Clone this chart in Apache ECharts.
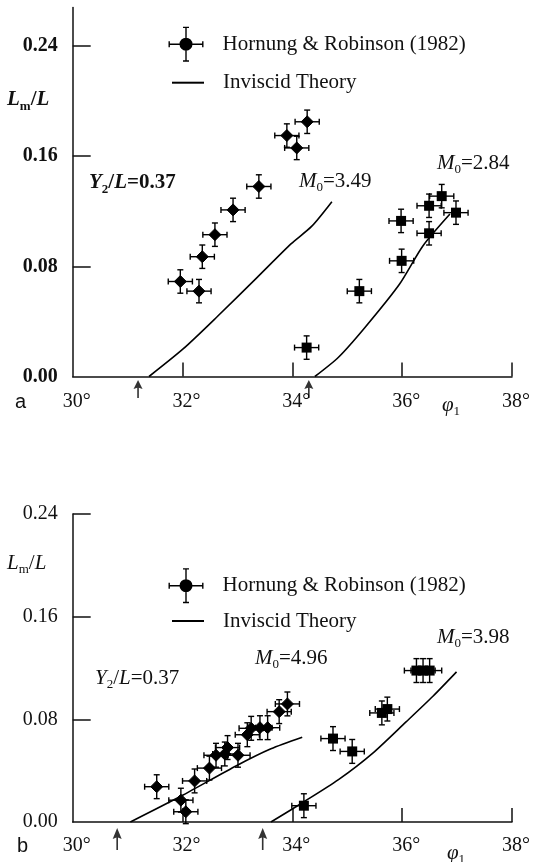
<!DOCTYPE html>
<html>
<head>
<meta charset="utf-8">
<script src="https://cdn.jsdelivr.net/npm/echarts@6/dist/echarts.min.js"></script>
<style>
  html, body { margin: 0; padding: 0; background: #fff; }
  #chart { width: 533px; height: 862px; }
</style>
</head>
<body>
<div id="chart"></div>
<script>
// tick labels
const xTickValues = [30, 32, 34, 36, 38];
const xTickLabels = ['30°', '32°', '34°', '36°', '38°'];
const yTickValues = [0, 0.08, 0.16, 0.24];
const yTickLabels = ['0.00', '0.08', '0.16', '0.24'];

// panel a : measurements (phi1 in deg, Lm/L)
const aDiamonds = [[31.96, 0.069], [32.30, 0.062], [32.36, 0.087], [32.59, 0.103], [32.92, 0.121],
  [33.39, 0.138], [33.90, 0.175], [34.08, 0.166], [34.27, 0.185]];
const aSquares = [[34.26, 0.021], [35.22, 0.062], [35.99, 0.084], [35.98, 0.113], [36.49, 0.124],
  [36.49, 0.104], [36.72, 0.131], [36.98, 0.119]];
// panel a : inviscid theory
const aTheory349 = [[31.39, 0], [32.01, 0.020], [32.62, 0.043], [33.36, 0.072], [33.98, 0.0965], [34.35, 0.109], [34.72, 0.127]];
const aTheory284 = [[34.41, 0], [34.84, 0.014], [35.33, 0.036], [35.95, 0.067], [36.38, 0.095], [36.87, 0.118]];
const aArrows = [31.19, 34.30];

// panel b
const bDiamonds = [[31.53, 0.0275], [31.97, 0.017], [32.06, 0.008], [32.22, 0.032], [32.49, 0.042],
  [32.61, 0.052], [32.77, 0.053], [32.82, 0.058], [33.01, 0.052], [33.18, 0.068], [33.25, 0.073],
  [33.41, 0.0735], [33.55, 0.0735], [33.76, 0.086], [33.91, 0.092]];
const bSquares = [[34.21, 0.0127], [34.74, 0.065], [35.09, 0.055], [35.63, 0.085], [35.73, 0.088],
  [36.26, 0.118], [36.38, 0.118], [36.50, 0.118]];
const bTheory496 = [[31.05, 0], [32.01, 0.021], [32.99, 0.044], [33.61, 0.057], [34.18, 0.066]];
const bTheory398 = [[33.61, 0], [34.22, 0.016], [34.84, 0.033], [35.46, 0.0535], [36.07, 0.078], [36.56, 0.098], [36.99, 0.117]];
const bArrows = [30.81, 33.46];

// error bar half widths
const xErr = 0.22;
const yErrA = 0.0085;
const yErrB = 0.0093;

const SERIF = "'Liberation Serif', 'DejaVu Serif', serif";
const SANS = "'Liberation Sans', Arial, sans-serif";
const INK = '#111';
const LEG1 = 'Hornung & Robinson (1982)';
const LEG2 = 'Inviscid Theory';
const ARROW = 'path://M0,0 L5,11 L0.9,9.5 L0.9,22 L-0.9,22 L-0.9,9.5 L-5,11 Z';
const ERR_ICON = 'path://M0,16.8 L35,16.8 L35,18.2 L0,18.2 Z M16.8,0 L18.2,0 L18.2,35 L16.8,35 Z ' +
  'M0,14.5 L1.4,14.5 L1.4,20.5 L0,20.5 Z M33.6,14.5 L35,14.5 L35,20.5 L33.6,20.5 Z ' +
  'M14.5,0 L20.5,0 L20.5,1.4 L14.5,1.4 Z M14.5,33.6 L20.5,33.6 L20.5,35 L14.5,35 Z ' +
  'M11,17.5 A6.5,6.5 0 1,1 24,17.5 A6.5,6.5 0 1,1 11,17.5 Z';

function errRender(shape, ex, ey) {
  return function (params, api) {
    const x = api.value(0), y = api.value(1);
    const c = api.coord([x, y]);
    const l = api.coord([x - ex, y])[0], r = api.coord([x + ex, y])[0];
    const t = api.coord([x, y + ey])[1], b = api.coord([x, y - ey])[1];
    const st = { stroke: '#000', lineWidth: 1.4 };
    const cap = 3;
    const kids = [
      { type: 'line', shape: { x1: l, y1: c[1], x2: r, y2: c[1] }, style: st },
      { type: 'line', shape: { x1: c[0], y1: t, x2: c[0], y2: b }, style: st },
      { type: 'line', shape: { x1: l, y1: c[1] - cap, x2: l, y2: c[1] + cap }, style: st },
      { type: 'line', shape: { x1: r, y1: c[1] - cap, x2: r, y2: c[1] + cap }, style: st },
      { type: 'line', shape: { x1: c[0] - cap, y1: t, x2: c[0] + cap, y2: t }, style: st },
      { type: 'line', shape: { x1: c[0] - cap, y1: b, x2: c[0] + cap, y2: b }, style: st }
    ];
    if (shape === 'diamond') {
      const s = 6;
      kids.push({ type: 'polygon', shape: { points: [[c[0], c[1] - s], [c[0] + s, c[1]], [c[0], c[1] + s], [c[0] - s, c[1]]] },
        style: { fill: '#000', stroke: '#000', lineWidth: 1, lineJoin: 'round' } });
    } else {
      kids.push({ type: 'rect', shape: { x: c[0] - 5, y: c[1] - 5, width: 10, height: 10 }, style: { fill: '#000' } });
    }
    return { type: 'group', children: kids };
  };
}

function pick(values, labels) {
  return function (v) {
    const i = values.findIndex(function (t) { return Math.abs(t - v) < 1e-6; });
    return i < 0 ? '' : labels[i];
  };
}

function xAxisOf(grid) {
  return {
    gridIndex: grid, type: 'value', min: 30, max: 38, interval: 2,
    axisLine: { show: true, onZero: false, lineStyle: { color: INK, width: 1.5 } },
    axisTick: { show: true, inside: true, length: 14, lineStyle: { color: INK, width: 1.5 }, customValues: xTickValues.slice(1) },
    axisLabel: { customValues: xTickValues, formatter: pick(xTickValues, xTickLabels), margin: grid ? 14 : 15,
      padding: [0, 0, 0, 8], fontFamily: SERIF, fontSize: 20, color: INK },
    splitLine: { show: false }
  };
}

function yAxisOf(grid, max, bold) {
  return {
    gridIndex: grid, type: 'value', min: 0, max: max,
    axisLine: { show: true, onZero: false, lineStyle: { color: INK, width: 1.5 } },
    axisTick: { show: true, inside: true, length: 18, lineStyle: { color: INK, width: 1.5 }, customValues: yTickValues.slice(1) },
    axisLabel: { customValues: yTickValues, formatter: pick(yTickValues, yTickLabels), margin: 15,
      fontFamily: SERIF, fontSize: 20, fontWeight: bold ? 'bold' : 'normal', color: INK },
    splitLine: { show: false }
  };
}

function pointSeries(grid, data, shape, ey) {
  return { type: 'custom', name: LEG1, xAxisIndex: grid, yAxisIndex: grid, data: data,
    encode: { x: 0, y: 1 }, clip: false, itemStyle: { color: '#000' }, renderItem: errRender(shape, xErr, ey) };
}

function theorySeries(grid, data) {
  return { type: 'line', name: LEG2, xAxisIndex: grid, yAxisIndex: grid, data: data, symbol: 'none',
    smooth: 0.25, itemStyle: { color: '#000' }, lineStyle: { color: '#000', width: 1.6 } };
}

function arrowSeries(grid, xs, h) {
  return { type: 'scatter', name: 'arrows', xAxisIndex: grid, yAxisIndex: grid, silent: true, clip: false,
    data: xs.map(function (x) { return [x, 0]; }), symbol: ARROW, symbolSize: [9, h],
    symbolOffset: [0, h / 2 + (grid ? 6 : 3.5)], itemStyle: { color: '#000' } };
}

function legendOf(name, icon, w, h, left, top) {
  return { data: [{ name: name, icon: icon }], left: left, top: top, padding: 0, itemWidth: w, itemHeight: h,
    selectedMode: false, textStyle: { fontFamily: SERIF, fontSize: 21, color: INK, padding: [0, 0, 0, 14] } };
}

function richSet(bold) {
  const w = bold ? 'bold' : 'normal';
  return {
    i: { fontFamily: SERIF, fontStyle: 'italic', fontWeight: w, fontSize: 21, lineHeight: 26, fill: INK },
    n: { fontFamily: SERIF, fontWeight: w, fontSize: 21, lineHeight: 26, fill: INK },
    s: { fontFamily: SERIF, fontWeight: w, fontSize: 13, lineHeight: 26, verticalAlign: 'bottom', fill: INK }
  };
}

function note(x, y, text, bold) {
  return { type: 'text', x: x, y: y, silent: true,
    style: { text: text, rich: richSet(bold), verticalAlign: 'middle', fill: INK } };
}

const graphic = [
  { type: 'text', x: 15, y: 402, style: { text: 'a', font: '20px ' + SANS, fill: INK, verticalAlign: 'middle' } },
  { type: 'text', x: 17, y: 846, style: { text: 'b', font: '20px ' + SANS, fill: INK, verticalAlign: 'middle' } },
  note(7, 100, '{i|L}{s|m}{n|/}{i|L}', true),
  note(89, 183, '{i|Y}{s|2}{n|/}{i|L}{n|=0.37}', true),
  note(299, 181, '{i|M}{s|0}{n|=3.49}', false),
  note(437, 163, '{i|M}{s|0}{n|=2.84}', false),
  note(442, 405, '{i|φ}{s|1}', false),
  note(7, 563, '{i|L}{s|m}{n|/}{i|L}', false),
  note(95, 678, '{i|Y}{s|2}{n|/}{i|L}{n|=0.37}', false),
  note(255, 658, '{i|M}{s|0}{n|=4.96}', false),
  note(437, 637, '{i|M}{s|0}{n|=3.98}', false),
  note(447, 853, '{i|φ}{s|1}', false)
];

const chart = echarts.init(document.getElementById('chart'), null, { renderer: 'canvas' });
chart.setOption({
  animation: false,
  backgroundColor: '#fff',
  grid: [
    { left: 72.7, width: 442.3, top: 7.5, height: 369 },
    { left: 72.7, width: 442.3, top: 514, height: 308 }
  ],
  xAxis: [xAxisOf(0), xAxisOf(1)],
  yAxis: [yAxisOf(0, 0.268, true), yAxisOf(1, 0.24, false)],
  legend: [
    legendOf(LEG1, ERR_ICON, 35, 35, 168.5, 26.7),
    legendOf(LEG2, 'rect', 32, 2, 172, 72.2),
    legendOf(LEG1, ERR_ICON, 35, 35, 168.5, 568.2),
    legendOf(LEG2, 'rect', 32, 2, 172, 610.5)
  ],
  graphic: graphic,
  series: [
    theorySeries(0, aTheory349),
    theorySeries(0, aTheory284),
    pointSeries(0, aDiamonds, 'diamond', yErrA),
    pointSeries(0, aSquares, 'square', yErrA),
    arrowSeries(0, aArrows, 18),
    theorySeries(1, bTheory496),
    theorySeries(1, bTheory398),
    pointSeries(1, bDiamonds, 'diamond', yErrB),
    pointSeries(1, bSquares, 'square', yErrB),
    arrowSeries(1, bArrows, 22)
  ]
});
</script>
</body>
</html>
